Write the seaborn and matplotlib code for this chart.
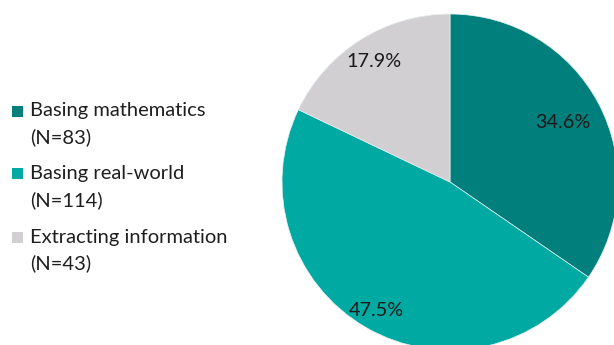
import matplotlib
matplotlib.use("Agg")
import matplotlib.pyplot as plt
from matplotlib.patches import Rectangle
import numpy as np
import seaborn as sns

categories = ["Basing mathematics", "Basing real-world", "Extracting information"]
counts = [83, 114, 43]
percent_labels = ["34.6%", "47.5%", "17.9%"]
colors = ["#007F7C", "#00A9A1", "#D1CFD1"]
label_dist = [0.76, 0.88, 0.85]

sns.set_theme(style="white")
plt.rcParams["font.family"] = ["Lato", "DejaVu Sans"]

W, H = 614, 345
fig = plt.figure(figsize=(W / 100, H / 100), dpi=100)
fig.patch.set_facecolor("white")

cx, cy, r = 450, 182, 168
ax = fig.add_axes([(cx - r) / W, (H - cy - r) / H, 2 * r / W, 2 * r / H])
wedges, _ = ax.pie(counts, colors=colors, startangle=90, counterclock=False,
                   wedgeprops=dict(linewidth=0.5, edgecolor="#e8f0f0"))
ax.set_xlim(-1, 1)
ax.set_ylim(-1, 1)
ax.set_aspect("equal")
ax.axis("off")

for w, lab, d in zip(wedges, percent_labels, label_dist):
    th = np.deg2rad((w.theta1 + w.theta2) / 2)
    ax.text(d * np.cos(th), d * np.sin(th), lab, ha="center", va="center",
            fontsize=14.3, color="#1a1a1a")

# legend
top = 111
step = 63
for i, (cat, n, col) in enumerate(zip(categories, counts, colors)):
    y = top + i * step
    fig.patches.append(Rectangle((12 / W, 1 - (y + 5.5) / H), 11 / W, 11 / H,
                                 transform=fig.transFigure, facecolor=col,
                                 edgecolor="none"))
    fig.text(30 / W, 1 - y / H, cat, ha="left", va="center", fontsize=14.5,
             color="#1f1f1f")
    fig.text(30 / W, 1 - (y + 26) / H, f"(N={n})", ha="left", va="center",
             fontsize=14.5, color="#1f1f1f")

fig.savefig("out.png", dpi=100)
